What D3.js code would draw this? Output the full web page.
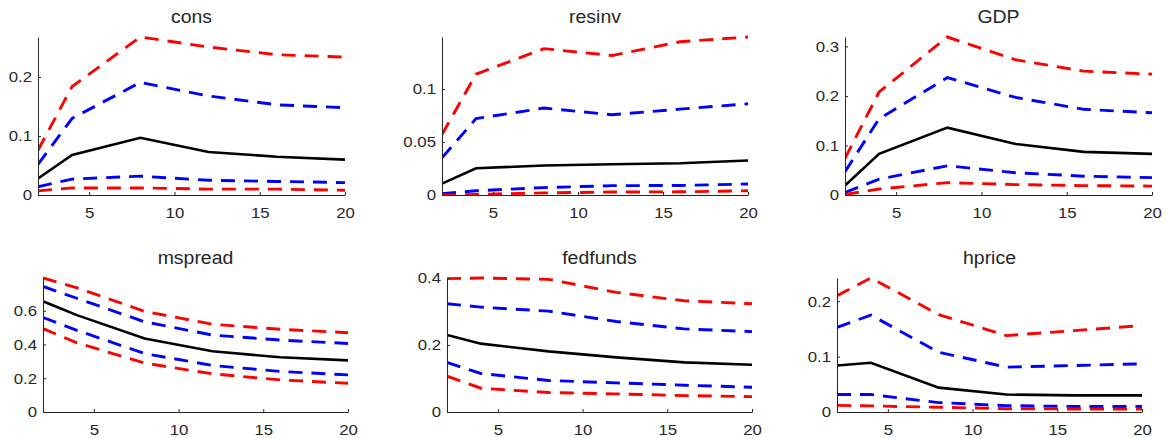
<!DOCTYPE html>
<html>
<head>
  <style>
    body {
      margin: 0;
      background: white;
    }
    text {
      font-family: Arial, "Liberation Sans", Helvetica, sans-serif;
      fill: #262626;
    }
    .axis path, .axis line {
      stroke: #262626;
    }
  </style>
</head>
<body>
  <script src="https://d3js.org/d3.v7.min.js"></script>
  <script>
    var width = 1167, height = 438;

    // horizons (quarters)
    var horizons = [2, 4, 8, 12, 16, 20];
    var xTicks = [5, 10, 15, 20];
    var titles = ["cons", "resinv", "GDP", "mspread", "fedfunds", "hprice"];

    // each panel: upper 90%, upper 68%, median, lower 68%, lower 90%
    var consLines = [
      [0.076, 0.184, 0.268, 0.251, 0.238, 0.234],
      [0.052, 0.130, 0.191, 0.168, 0.153, 0.148],
      [0.028, 0.068, 0.097, 0.073, 0.065, 0.060],
      [0.014, 0.027, 0.032, 0.025, 0.023, 0.021],
      [0.007, 0.012, 0.012, 0.010, 0.010, 0.008]
    ];
    var resinvLines = [
      [0.057, 0.114, 0.138, 0.1315, 0.1445, 0.149],
      [0.035, 0.072, 0.082, 0.0757, 0.081, 0.086],
      [0.0107, 0.0252, 0.0278, 0.029, 0.030, 0.0325],
      [0.0013, 0.004, 0.007, 0.0088, 0.009, 0.0104],
      [-0.0003, 0.0006, 0.002, 0.0028, 0.003, 0.004]
    ];
    var gdpLines = [
      [0.074, 0.208, 0.319, 0.273, 0.250, 0.244],
      [0.047, 0.154, 0.237, 0.197, 0.173, 0.166],
      [0.019, 0.083, 0.136, 0.103, 0.087, 0.083],
      [0.005, 0.032, 0.059, 0.045, 0.038, 0.035],
      [0.001, 0.012, 0.025, 0.021, 0.019, 0.018]
    ];
    var mspreadLines = [
      [0.794, 0.736, 0.596, 0.520, 0.490, 0.470],
      [0.744, 0.674, 0.534, 0.456, 0.426, 0.406],
      [0.656, 0.574, 0.436, 0.360, 0.324, 0.306],
      [0.560, 0.484, 0.346, 0.276, 0.240, 0.220],
      [0.494, 0.410, 0.290, 0.226, 0.190, 0.170]
    ];
    var fedfundsLines = [
      [0.398, 0.400, 0.396, 0.357, 0.332, 0.323],
      [0.323, 0.313, 0.301, 0.270, 0.248, 0.240],
      [0.230, 0.204, 0.181, 0.163, 0.148, 0.141],
      [0.148, 0.115, 0.094, 0.087, 0.080, 0.074],
      [0.107, 0.071, 0.058, 0.054, 0.049, 0.046]
    ];
    var hpriceLines = [
      [0.210, 0.242, 0.176, 0.138, 0.147, 0.156],
      [0.153, 0.175, 0.108, 0.081, 0.084, 0.087],
      [0.084, 0.089, 0.044, 0.0315, 0.030, 0.030],
      [0.0315, 0.0315, 0.017, 0.0115, 0.010, 0.010],
      [0.012, 0.011, 0.0085, 0.006, 0.0055, 0.0055]
    ];

    var yTicks = [
      [0, 0.1, 0.2],
      [0, 0.05, 0.1],
      [0, 0.1, 0.2, 0.3],
      [0, 0.2, 0.4, 0.6],
      [0, 0.2, 0.4],
      [0, 0.1, 0.2]
    ];

    var panelData = [consLines, resinvLines, gdpLines, mspreadLines, fedfundsLines, hpriceLines];
    var lineColors = ["red", "blue", "black", "blue", "red"];

    // axes boxes (left, right, top, bottom)
    var boxes = [
      [38, 345, 37, 195],
      [442, 748, 37, 195],
      [845, 1152, 37, 195],
      [43, 348, 278, 412],
      [447, 752, 278, 412],
      [837, 1142, 278, 412]
    ];

    var svg = d3.select("body").append("svg")
        .attr("width", width)
        .attr("height", height);

    function stretch(sel, k) {
      sel.each(function() {
        var w = this.getComputedTextLength();
        d3.select(this).attr("textLength", w * k).attr("lengthAdjust", "spacingAndGlyphs");
      });
    }

    panelData.forEach(function(lines, i) {
      var b = boxes[i];
      var allVals = d3.merge(lines);
      var x = d3.scaleLinear().domain([2, 20]).range([b[0], b[1]]);
      var y = d3.scaleLinear().domain([0, d3.max(allVals)]).range([b[3], b[2]]);

      var g = svg.append("g");

      var clipId = "clip" + i;
      svg.append("clipPath").attr("id", clipId)
        .append("rect")
          .attr("x", b[0]).attr("y", b[2] - 3)
          .attr("width", b[1] - b[0] + 3).attr("height", b[3] - b[2] + 3);

      var line = d3.line()
          .x(function(d, j) { return x(horizons[j]); })
          .y(function(d) { return y(d); });

      // median first, then bands
      var order = [2, 1, 3, 0, 4];
      order.forEach(function(k) {
        g.append("path")
          .datum(lines[k])
          .attr("clip-path", "url(#" + clipId + ")")
          .attr("d", line)
          .attr("fill", "none")
          .attr("stroke", lineColors[k])
          .attr("stroke-width", k === 2 ? 2.6 : 2.9)
          .attr("stroke-dasharray", k === 2 ? null : "14,9");
      });

      var xAxis = g.append("g")
          .attr("class", "axis")
          .attr("transform", "translate(0," + b[3] + ")")
          .call(d3.axisBottom(x).tickValues(xTicks).tickSizeInner(-3).tickSizeOuter(0).tickPadding(9));
      xAxis.selectAll("text").attr("font-size", 15).attr("dy", "0.95em");

      var yAxis = g.append("g")
          .attr("class", "axis")
          .attr("transform", "translate(" + b[0] + ",0)")
          .call(d3.axisLeft(y).tickValues(yTicks[i]).tickFormat(d3.format("~g")).tickSizeInner(-3).tickSizeOuter(0).tickPadding(6));
      yAxis.selectAll("text").attr("font-size", 15);

      stretch(xAxis.selectAll("text"), 1.12);
      stretch(yAxis.selectAll("text"), 1.12);

      var title = g.append("text")
          .attr("x", (b[0] + b[1]) / 2)
          .attr("y", b[2] - 14)
          .attr("text-anchor", "middle")
          .attr("font-size", 18)
          .attr("fill", "#000")
          .text(titles[i]);
      stretch(title, 1.08);
    });
  </script>
</body>
</html>
